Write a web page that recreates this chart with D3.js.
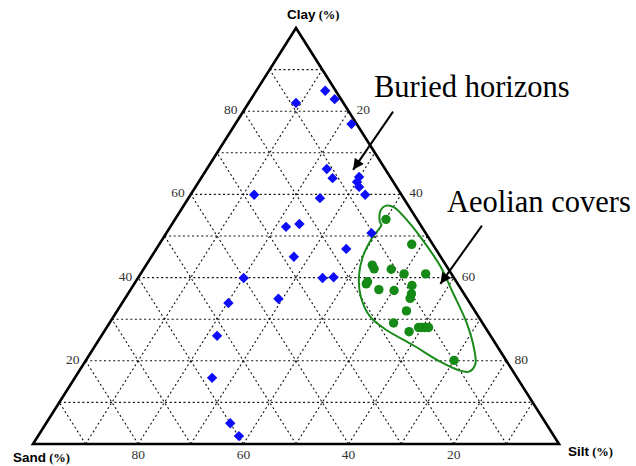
<!DOCTYPE html>
<html>
<head>
<meta charset="utf-8">
<script src="https://cdn.jsdelivr.net/npm/d3@7"></script>
<style>
  html, body { margin: 0; padding: 0; background: #fff; }
  svg { display: block; }
  .serif { font-family: 'Liberation Serif', 'DejaVu Serif', 'Times New Roman', serif; }
  .sans { font-family: 'Liberation Sans', Arial, sans-serif; }
</style>
</head>
<body>
<div id="chart"></div>
<script>
"use strict";

// buried horizons (blue diamonds), values in %
var buriedClay = [84.9, 82.9, 82.0, 76.9, 66.1, 63.9, 64.2, 63.0, 61.8, 59.9, 59.9, 59.1, 52.2,
  52.9, 50.7, 46.9, 45.0, 39.9, 39.9, 40.1, 33.9, 34.9, 26.0, 15.9, 5.0, 1.9];
var buriedSilt = [13.1, 15.9, 9.0, 22.1, 22.8, 25.0, 29.9, 30.1, 31.1, 33.2, 12.1, 25.0, 22.0,
  24.2, 39.0, 36.1, 27.1, 20.1, 35.1, 37.1, 20.2, 29.2, 22.0, 26.1, 35.0, 38.2];

// aeolian covers (green dots)
var aeolianClay = [54.0, 48.0, 43.0, 42.1, 42.0, 40.9, 40.9, 39.0, 38.5, 37.1, 36.9, 38.1,
  36.1, 35.0, 32.0, 29.1, 27.0, 28.0, 28.0, 28.0, 28.0, 20.1];
var aeolianSilt = [40.1, 48.0, 43.0, 43.8, 47.1, 50.1, 54.2, 44.1, 44.1, 47.2, 50.2, 53.0,
  53.9, 54.2, 55.0, 54.0, 58.0, 59.3, 59.9, 60.5, 61.2, 70.0];

// outline drawn round the aeolian group
var outlineClay = [57.3, 56.9, 53.8, 49.0, 42.7, 36.3, 29.1, 22.6, 19.2, 17.4, 17.8, 19.8,
  23.8, 27.4, 30.6, 35.3, 40.1, 45.0, 49.8, 52.6, 53.6, 56.3];
var outlineSilt = [38.5, 40.2, 44.2, 49.6, 56.1, 61.7, 67.9, 72.6, 74.5, 74.2, 71.9, 67.5,
  60.3, 53.5, 48.8, 44.7, 41.9, 40.2, 39.7, 39.9, 39.1, 38.0];

var gridSteps = [10, 20, 30, 40, 50, 60, 70, 80, 90];
var tickValues = [20, 40, 60, 80];

var width = 636, height = 466;

var svg = d3.select('#chart').append('svg')
  .attr('width', width)
  .attr('height', height);

// silt runs along the base, clay goes up to the apex
var x = d3.scaleLinear().domain([0, 100]).range([33, 559]);
var y = d3.scaleLinear().domain([0, 100]).range([444, 28]);

function project(clay, silt) {
  return [x(silt + clay / 2), y(clay)];
}

var line = d3.line();

svg.append('defs').append('marker')
  .attr('id', 'arrowhead')
  .attr('viewBox', '0 0 10 10')
  .attr('refX', 10).attr('refY', 5)
  .attr('markerWidth', 6.5).attr('markerHeight', 5.5)
  .attr('markerUnits', 'strokeWidth')
  .attr('orient', 'auto')
  .append('path')
  .attr('d', 'M0,0L10,5L0,10Z')
  .attr('fill', '#000');

// dashed grid: clay, silt and sand constant lines
var grid = svg.append('g').attr('class', 'grid')
  .attr('fill', 'none')
  .attr('stroke', '#111')
  .attr('stroke-width', 1.1)
  .attr('stroke-dasharray', '2,2.6');

gridSteps.forEach(function(v) {
  grid.append('path').attr('d', line([project(v, 0), project(v, 100 - v)]));
  grid.append('path').attr('d', line([project(0, v), project(100 - v, v)]));
  grid.append('path').attr('d', line([project(0, 100 - v), project(100 - v, 0)]));
});

svg.append('path')
  .attr('d', line([project(0, 0), project(0, 100), project(100, 0)]) + 'Z')
  .attr('fill', 'none')
  .attr('stroke', '#000')
  .attr('stroke-width', 2.6)
  .attr('stroke-linejoin', 'miter');

// tick labels
var ticks = svg.append('g')
  .attr('class', 'serif')
  .attr('font-size', 13.5)
  .attr('fill', '#333');

tickValues.forEach(function(v) {
  var p = project(v, 0);
  ticks.append('text').attr('x', p[0] - 6).attr('y', p[1] + 3)
    .attr('text-anchor', 'end').text(v);
  p = project(100 - v, v);
  ticks.append('text').attr('x', p[0] + 8).attr('y', p[1] + 3)
    .attr('text-anchor', 'start').text(v);
  p = project(0, 100 - v);
  ticks.append('text').attr('x', p[0]).attr('y', p[1] + 15)
    .attr('text-anchor', 'middle').text(v);
});

function axisTitle(tx, ty, name) {
  var t = svg.append('text').attr('x', tx).attr('y', ty).attr('fill', '#000');
  t.append('tspan')
    .attr('class', 'sans')
    .attr('font-weight', 'bold').attr('font-size', 13.5)
    .text(name);
  t.append('tspan')
    .attr('class', 'serif')
    .attr('font-weight', 'bold').attr('font-size', 12.5)
    .text('\u00a0(%)');
}
axisTitle(287, 19, 'Clay');
axisTitle(13, 462, 'Sand');
axisTitle(568, 456, 'Silt');

// aeolian outline
svg.append('path')
  .attr('d', d3.line().curve(d3.curveCatmullRomClosed)(outlineClay.map(function(c, i) {
    return project(c, outlineSilt[i]);
  })))
  .attr('fill', 'none')
  .attr('stroke', '#1b8a1b')
  .attr('stroke-width', 2);

var diamond = d3.symbol().type(d3.symbolSquare).size(54);

svg.append('g').selectAll('path')
  .data(buriedClay)
  .enter().append('path')
  .attr('d', diamond)
  .attr('transform', function(c, i) {
    var p = project(c, buriedSilt[i]);
    return 'translate(' + p[0] + ',' + p[1] + ') rotate(45)';
  })
  .attr('fill', '#0d0dfa');

svg.append('g').selectAll('circle')
  .data(aeolianClay)
  .enter().append('circle')
  .attr('cx', function(c, i) { return project(c, aeolianSilt[i])[0]; })
  .attr('cy', function(c, i) { return project(c, aeolianSilt[i])[1]; })
  .attr('r', 4.7)
  .attr('fill', '#168a16');

// annotations, arrow ends given as [clay, silt]
var annotations = [
  { label: 'Buried horizons', tx: 374, ty: 97, from: [79.9, 28.5], to: [65.9, 27.9] },
  { label: 'Aeolian covers', tx: 447, ty: 212, from: [52.5, 59.1], to: [38.5, 58.2] }
];

annotations.forEach(function(a) {
  svg.append('text')
    .attr('class', 'serif')
    .attr('x', a.tx).attr('y', a.ty)
    .attr('font-size', 30.5)
    .attr('fill', '#000')
    .text(a.label);
  svg.append('path')
    .attr('d', line([project(a.from[0], a.from[1]), project(a.to[0], a.to[1])]))
    .attr('stroke', '#000')
    .attr('stroke-width', 2)
    .attr('marker-end', 'url(#arrowhead)');
});
</script>
</body>
</html>
